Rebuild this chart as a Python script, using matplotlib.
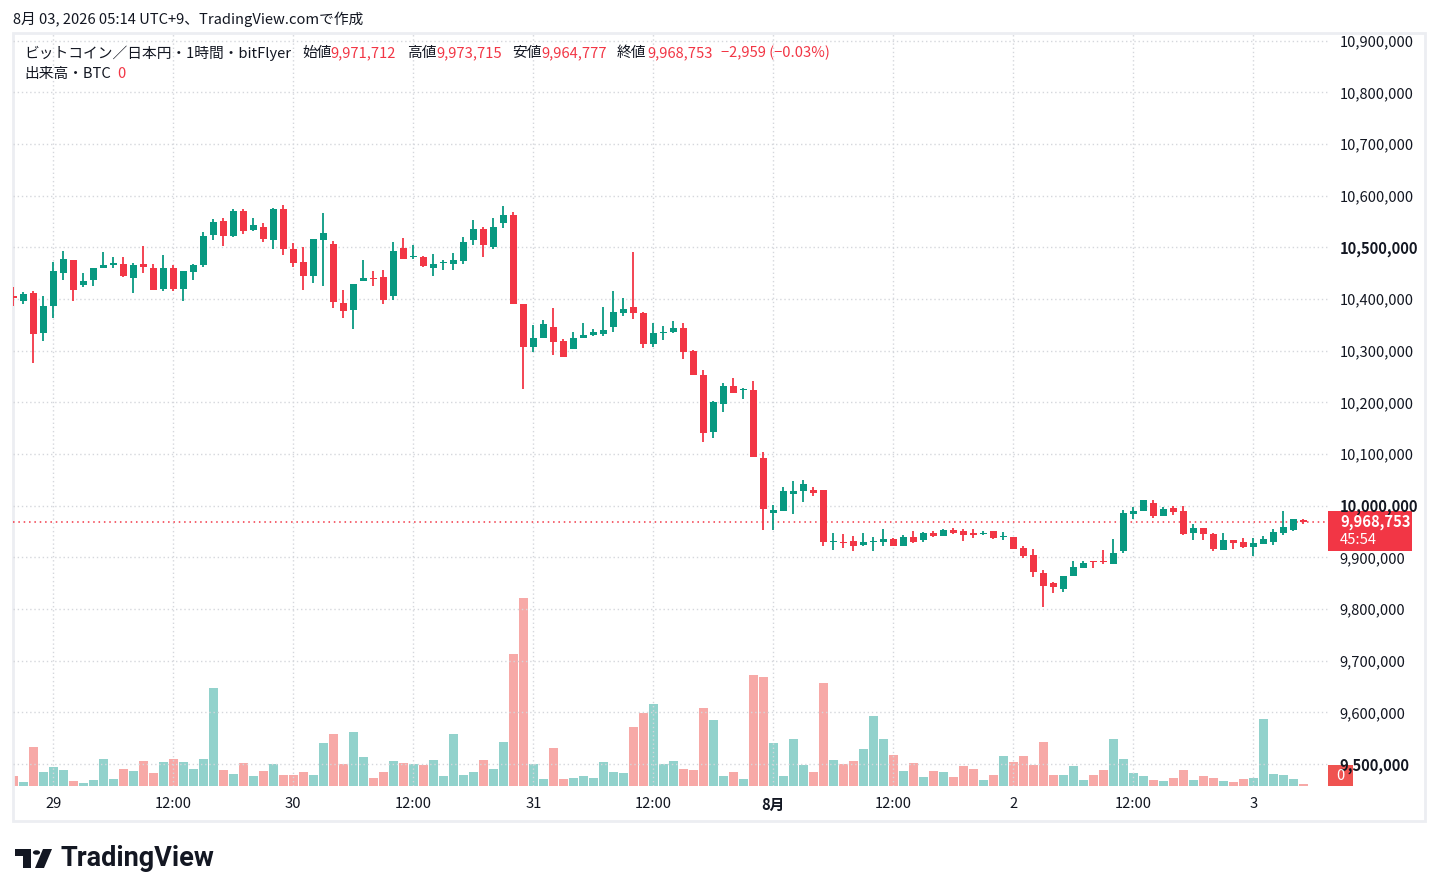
import numpy as np
import pandas as pd
import matplotlib
matplotlib.use('Agg')
import matplotlib.pyplot as plt
import matplotlib.dates as mdates
from matplotlib.patches import Rectangle, Polygon, Circle

plt.rcParams['font.family'] = ['Noto Sans CJK JP', 'DejaVu Sans']

# ---------------- data (prices in thousands of JPY) ----------------
times = pd.date_range('2026-07-28 20:00', periods=130, freq='h')

open_k = [10406, 10397, 10412, 10334, 10386, 10451, 10476, 10428, 10436, 10459,
          10465, 10468, 10440, 10468, 10460, 10419, 10460, 10420, 10453, 10465,
          10524, 10551, 10522, 10570, 10534, 10539, 10515, 10574, 10497, 10472,
          10444, 10515, 10506, 10393, 10378, 10434, 10439, 10443, 10405, 10499,
          10481, 10481, 10459, 10470, 10468, 10474, 10515, 10535, 10501, 10547,
          10562, 10391, 10307, 10324, 10346, 10318, 10303, 10324, 10330, 10333,
          10346, 10372, 10385, 10372, 10313, 10334, 10336, 10343, 10299, 10253,
          10142, 10196, 10231, 10224, 10224, 10093, 9986, 9990, 10022, 10028,
          10031, 10030, 9929, 9930, 9931, 9924, 9930, 9930, 9935, 9922,
          9939, 9934, 9947, 9942, 9953, 9951, 9947, 9946, 9951, 9939,
          9939, 9919, 9904, 9870, 9851, 9839, 9864, 9880, 9892, 9892,
          9887, 9912, 9983, 9989, 10006, 9980, 9995, 9989, 9947, 9956,
          9945, 9914, 9933, 9929, 9920, 9926, 9930, 9947, 9953, 9971.712]
high_k = [10423, 10414, 10416, 10406, 10472, 10493, 10476, 10451, 10460, 10491,
          10481, 10481, 10470, 10503, 10468, 10485, 10466, 10454, 10468, 10529,
          10554, 10556, 10574, 10574, 10556, 10547, 10576, 10581, 10508, 10501,
          10516, 10566, 10512, 10417, 10429, 10476, 10454, 10456, 10510, 10518,
          10504, 10483, 10487, 10476, 10489, 10520, 10553, 10539, 10556, 10579,
          10568, 10391, 10349, 10360, 10383, 10322, 10337, 10353, 10341, 10385,
          10416, 10401, 10491, 10374, 10353, 10347, 10358, 10354, 10301, 10262,
          10203, 10237, 10247, 10228, 10241, 10104, 10002, 10037, 10047, 10049,
          10037, 10031, 9947, 9945, 9942, 9947, 9939, 9954, 9937, 9943,
          9951, 9949, 9951, 9954, 9956, 9954, 9954, 9951, 9951, 9949,
          9939, 9921, 9916, 9876, 9853, 9864, 9893, 9893, 9893, 9914,
          9935, 9991, 9997, 10010, 10010, 9997, 9999, 9999, 9964, 9956,
          9947, 9947, 9933, 9937, 9937, 9941, 9954, 9989, 9974, 9973.715]
low_k = [10386, 10390, 10276, 10319, 10364, 10436, 10397, 10424, 10426, 10459,
         10459, 10443, 10411, 10451, 10417, 10415, 10415, 10397, 10436, 10461,
         10515, 10503, 10520, 10526, 10532, 10511, 10496, 10486, 10461, 10417,
         10430, 10426, 10382, 10363, 10342, 10434, 10426, 10390, 10399, 10478,
         10478, 10461, 10445, 10457, 10457, 10467, 10504, 10482, 10496, 10538,
         10390, 10226, 10297, 10324, 10292, 10288, 10303, 10324, 10328, 10328,
         10336, 10367, 10361, 10305, 10307, 10321, 10334, 10284, 10253, 10124,
         10130, 10182, 10219, 10207, 10094, 9953, 9953, 9990, 9984, 10007,
         10019, 9921, 9915, 9919, 9913, 9921, 9913, 9922, 9922, 9921,
         9928, 9930, 9939, 9942, 9945, 9931, 9937, 9943, 9935, 9933,
         9916, 9899, 9862, 9803, 9831, 9833, 9864, 9880, 9880, 9887,
         9887, 9908, 9974, 9989, 9976, 9980, 9981, 9943, 9933, 9933,
         9912, 9914, 9916, 9918, 9902, 9926, 9924, 9943, 9951, 9964.777]
close_k = [10401, 10410, 10332, 10387, 10454, 10478, 10417, 10435, 10460, 10466,
           10470, 10445, 10466, 10461, 10417, 10460, 10419, 10454, 10466, 10522,
           10549, 10522, 10570, 10532, 10543, 10517, 10574, 10497, 10470, 10445,
           10516, 10528, 10395, 10376, 10429, 10441, 10438, 10399, 10493, 10478,
           10483, 10463, 10468, 10472, 10476, 10510, 10535, 10505, 10539, 10562,
           10390, 10307, 10325, 10351, 10317, 10288, 10325, 10331, 10337, 10340,
           10374, 10381, 10372, 10313, 10335, 10337, 10343, 10297, 10253, 10140,
           10201, 10231, 10219, 10226, 10095, 9994, 9991, 10029, 10028, 10041,
           10024, 9930, 9930, 9928, 9922, 9929, 9931, 9935, 9922, 9939,
           9930, 9947, 9942, 9953, 9947, 9943, 9944, 9947, 9937, 9940,
           9916, 9903, 9872, 9845, 9843, 9864, 9881, 9889, 9890, 9890,
           9908, 9985, 9989, 10010, 9980, 9993, 9987, 9945, 9956, 9945,
           9916, 9933, 9928, 9920, 9928, 9935, 9949, 9958, 9974, 9968.753]
volume = [10, 4, 39, 14, 19, 16, 5, 3, 6, 27, 7, 17, 15, 25, 13, 24, 27, 24, 17, 27,
          98, 16, 12, 23, 10, 15, 22, 11, 11, 14, 11, 43, 52, 22, 54, 29, 8, 14, 25, 23,
          22, 21, 26, 10, 52, 11, 14, 26, 17, 44, 132, 188, 22, 7, 38, 7, 8, 10, 8, 24,
          14, 13, 59, 73, 82, 22, 25, 17, 16, 78, 66, 10, 14, 7, 111, 109, 43, 10, 47, 21,
          14, 103, 26, 22, 25, 37, 70, 47, 31, 15, 23, 9, 15, 14, 9, 20, 17, 6, 11, 30,
          24, 30, 21, 44, 11, 11, 20, 6, 11, 16, 47, 27, 13, 10, 6, 5, 8, 16, 6, 10,
          8, 5, 4, 7, 8, 67, 12, 11, 7, 2]

tick_times = pd.date_range('2026-07-29 00:00', periods=11, freq='12h')
tick_labels = ['29', '12:00', '30', '12:00', '31', '12:00', '8月', '12:00', '2', '12:00', '3']
price_ticks = np.arange(9500000, 10900001, 100000)

header_text = '8月 03, 2026 05:14 UTC+9、TradingView.comで作成'
symbol_text = 'ビットコイン／日本円・1時間・bitFlyer'
ohlc_names = ['始値', '高値', '安値', '終値']
ohlc_vals = ['9,971,712', '9,973,715', '9,964,777', '9,968,753']
change_text = '−2,959 (−0.03%)'
countdown = '45:54'

# ---------------- styling ----------------
UP = '#089981'
DN = '#f23645'
VUP = '#92d2cc'
VDN = '#f7a9a7'
TXT = '#131722'
GRID = '#d5d7dc'
FS = 10.6

W, H = 1438, 896
fig = plt.figure(figsize=(W / 100, H / 100), dpi=100)
fig.patch.set_facecolor('white')


def fx(px):
    return px / W


def fy(py):
    return 1 - py / H


L, R, T, B = 13, 1328, 33, 786
pos = [fx(L), fy(B), fx(R) - fx(L), fy(T) - fy(B)]
axv = fig.add_axes(pos)
ax = fig.add_axes(pos, sharex=axv)
ax.patch.set_alpha(0)
axv.set_zorder(0)
ax.set_zorder(1)

o = np.array(open_k) * 1000
h = np.array(high_k) * 1000
l = np.array(low_k) * 1000
c = np.array(close_k) * 1000
v = np.array(volume, dtype=float)
x = mdates.date2num(times.to_pydatetime())
hour = 1 / 24
up = c >= o
cols = np.where(up, UP, DN)
vcols = np.where(up, VUP, VDN)

# volume
axv.bar(x, v, width=0.9 * hour, color=vcols, linewidth=0)
axv.set_ylim(0, B - T)
axv.axis('off')

# candles
ax.vlines(x, l, h, colors=cols, linewidth=1.3, zorder=2)
body_lo = np.minimum(o, c)
body_h = np.maximum(np.abs(c - o), 2000)
ax.bar(x, body_h, bottom=body_lo, width=0.7 * hour, color=cols, linewidth=0, zorder=3)

ymin, ymax = 9457400, 10914800
ax.set_ylim(ymin, ymax)
ax.set_xlim(x[0] - 0.03 * hour, x[0] + 131.47 * hour)

ax.set_xticks(mdates.date2num(tick_times.to_pydatetime()))
ax.set_xticklabels(tick_labels)
ax.tick_params(axis='x', length=0, pad=8, labelsize=FS, labelcolor=TXT)
for lab in ax.get_xticklabels():
    if lab.get_text() == '8月':
        lab.set_fontweight('bold')

ax.yaxis.tick_right()
ax.set_yticks(price_ticks)
ax.set_yticklabels([f'{p:,}' for p in price_ticks])
ax.tick_params(axis='y', length=0, pad=8.5, labelsize=FS, labelcolor=TXT)
for lab, p in zip(ax.get_yticklabels(), price_ticks):
    if p % 500000 == 0:
        lab.set_fontweight('bold')

ax.grid(True, color=GRID, linestyle=(0, (1, 2)), linewidth=1)
ax.set_axisbelow(True)
for sp in ax.spines.values():
    sp.set_visible(False)

last = c[-1]
ax.axhline(last, color=DN, linestyle=(0, (1, 2.5)), linewidth=1.1, zorder=1)

# outer frame
fig.add_artist(Rectangle((fx(13), fy(821)), fx(1425) - fx(13), fy(33) - fy(821),
                         transform=fig.transFigure, fill=False,
                         edgecolor='#eceef2', linewidth=2))

# price label on axis
disp_y = ax.transData.transform((x[0], last))[1]
img_y = H - disp_y
fig.add_artist(Rectangle((fx(1328), fy(img_y + 29)), fx(1412) - fx(1328), 40 / H,
                         transform=fig.transFigure, facecolor=DN, edgecolor='none'))
fig.text(fx(1340), fy(img_y), f'{last:,.0f}', color='white', fontsize=FS,
         fontweight='bold', va='center', ha='left')
fig.text(fx(1340), fy(img_y + 18), countdown, color='white', fontsize=FS,
         va='center', ha='left')

# volume label
fig.add_artist(Rectangle((fx(1328), fy(786)), fx(1353) - fx(1328), 21 / H,
                         transform=fig.transFigure, facecolor='#ef5350', edgecolor='none'))
fig.text(fx(1340.5), fy(775.5), '0', color='white', fontsize=FS, va='center', ha='center')

# header
fig.text(fx(13), fy(19), header_text, color=TXT, fontsize=FS, va='center', ha='left')
fig.text(fx(24), fy(53), symbol_text, color=TXT, fontsize=FS, va='center', ha='left')
name_x = [302, 407, 512, 617]
val_x = [330, 436, 541, 647]
for nx, vx, nm, vl in zip(name_x, val_x, ohlc_names, ohlc_vals):
    fig.text(fx(nx), fy(53), nm, color=TXT, fontsize=FS, va='center', ha='left')
    fig.text(fx(vx), fy(53), vl, color=DN, fontsize=FS, va='center', ha='left')
fig.text(fx(721), fy(53), change_text, color=DN, fontsize=FS, va='center', ha='left')
fig.text(fx(24), fy(74), '出来高・BTC', color=TXT, fontsize=FS, va='center', ha='left')
fig.text(fx(117), fy(74), '0', color=DN, fontsize=FS, va='center', ha='left')

# TradingView logo
logo_col = '#131722'
fig.add_artist(Polygon([(fx(15), fy(849)), (fx(31), fy(849)), (fx(31), fy(868)),
                        (fx(23), fy(868)), (fx(23), fy(856)), (fx(15), fy(856))],
                       closed=True, transform=fig.transFigure, facecolor=logo_col,
                       edgecolor='none'))
fig.add_artist(Circle((fx(36.5), fy(852.5)), 3.6 / W, transform=fig.transFigure,
                      facecolor=logo_col, edgecolor='none'))
fig.add_artist(Polygon([(fx(43), fy(849)), (fx(52), fy(849)), (fx(44), fy(868)),
                        (fx(35), fy(868))], closed=True, transform=fig.transFigure,
                       facecolor=logo_col, edgecolor='none'))
fig.text(fx(61), fy(858), 'TradingView', color=logo_col, fontsize=19.5,
         fontweight='bold', family=['Roboto', 'DejaVu Sans'], va='center', ha='left')

fig.savefig('out.png', dpi=100)
